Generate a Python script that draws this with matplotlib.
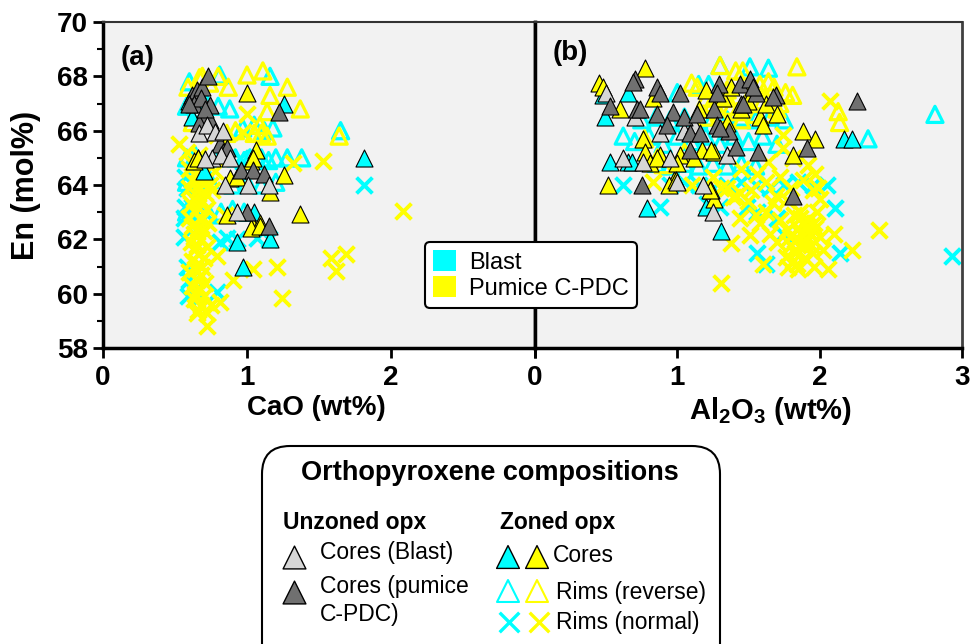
import matplotlib.pyplot as plt
from matplotlib.patches import Patch, FancyBboxPatch

plt.rcParams['font.family'] = ['Liberation Sans', 'DejaVu Sans']
plt.rcParams['mathtext.fontset'] = 'custom'
plt.rcParams['mathtext.rm'] = 'Liberation Sans'
plt.rcParams['mathtext.bf'] = 'Liberation Sans:bold'

CYAN = '#00ffff'
YELLOW = '#ffff00'
LIGHT = '#d6d6d6'
DARK = '#707070'

# ---- panel (a): CaO (wt%) vs En (mol%) ----
# unzoned cores, Blast
ub_cao = [0.67, 0.72, 0.78, 0.83, 0.76, 0.82, 0.88, 0.85, 1.01, 1.15, 0.93, 0.71]
ub_en_a = [65.9, 66.2, 65.95, 66.0, 65.0, 65.1, 65.0, 64.0, 64.0, 64.0, 63.0, 64.95]
# unzoned cores, pumice C-PDC
up_cao = [0.62, 0.65, 0.69, 0.73, 0.63, 0.68, 0.74, 0.69, 0.74, 0.67, 0.81, 0.83,
          0.86, 0.96, 1.04, 1.12, 1.00, 1.15, 1.22, 0.71, 0.60]
up_en_a = [67.3, 67.5, 67.6, 68.0, 67.0, 67.2, 66.95, 66.45, 66.4, 66.3, 65.5, 65.2,
           65.35, 64.55, 64.55, 64.4, 63.0, 62.5, 66.7, 66.8, 67.0]
# zoned cores, Blast
zcb_cao = [1.81, 1.26, 1.16, 0.97, 0.93, 0.62, 0.66, 0.70, 1.05, 0.60]
zcb_en_a = [65.0, 67.0, 62.0, 61.0, 61.9, 66.5, 65.0, 64.5, 63.0, 67.1]
# zoned cores, pumice C-PDC
zcp_cao = [1.00, 1.37, 1.26, 0.63, 1.06, 1.03, 1.16, 1.04, 1.09, 0.86, 0.88, 0.93,
           1.03, 1.09, 0.66, 1.04]
zcp_en_a = [67.4, 62.95, 64.35, 64.9, 65.3, 64.9, 63.75, 62.5, 62.6, 62.9, 64.25, 64.3,
            62.4, 62.5, 65.0, 65.0]
# reverse-zoned rims, Blast
rrb_cao = [0.58, 0.65, 0.72, 0.80, 0.88,
           0.97, 1.05, 1.12, 1.18,
           0.58, 0.64, 0.70, 0.78, 0.85, 0.92, 0.98, 1.02, 1.06, 1.10, 1.15, 1.20, 1.28, 1.38,
           0.58, 0.66, 0.74, 0.90, 1.00, 1.10, 1.20,
           0.58, 0.66, 0.74, 0.82, 0.90, 0.98,
           0.81, 1.16, 1.65, 0.60]
rrb_en_a = [66.9, 66.8, 67.0, 66.9, 66.8,
            66.1, 66.2, 66.0, 66.1,
            65.0, 65.1, 64.9, 65.0, 65.1, 65.0, 64.9, 65.0, 65.1, 65.0, 64.9, 65.0, 65.0, 65.0,
            64.1, 64.0, 64.2, 64.0, 64.1, 64.0, 64.1,
            63.0, 63.1, 62.9, 63.0, 63.1, 63.0,
            68.05, 68.0, 66.0, 67.8]
# reverse-zoned rims, pumice C-PDC
rrp_cao = [1.00, 1.11, 1.28, 1.37, 1.16, 1.14, 1.09, 1.10, 1.14, 0.67, 0.74, 0.59,
           0.62, 0.92, 0.86, 1.05, 0.69, 0.80, 0.87, 1.64]
rrp_en_a = [68.05, 68.2, 67.6, 66.8, 67.3, 66.7, 66.2, 65.9, 65.8, 67.95, 67.75, 67.6,
            66.3, 66.0, 65.9, 65.9, 68.0, 68.0, 67.6, 65.8]
# normal-zoned rims, Blast
rnb_cao = [1.81, 0.86, 0.93, 0.56, 1.07, 0.79, 0.57, 0.81, 0.57, 0.62, 0.58, 0.60,
           0.56, 0.59, 0.63, 0.58, 0.61, 0.70, 0.95, 1.15]
rnb_en_a = [64.0, 62.05, 62.0, 62.1, 62.05, 60.05, 63.2, 61.9, 64.3, 63.2, 61.0, 60.5,
            62.8, 59.9, 60.1, 63.9, 64.5, 63.0, 65.0, 62.0]
# normal-zoned rims, pumice C-PDC
rnp_cao = [0.60, 0.65, 0.70, 0.62, 0.68, 0.74, 0.60, 0.66, 0.71, 0.63, 0.69, 0.61,
           0.66, 0.72, 0.64, 0.60, 0.68, 0.73, 0.62, 0.66, 0.70, 0.63, 0.68, 0.61,
           0.65, 0.72, 0.63, 0.67, 0.70, 0.62, 0.66, 0.69, 0.64, 0.60, 0.68, 0.65,
           0.71, 0.62, 0.67, 0.64, 0.70, 0.63, 0.68, 0.66, 0.72, 0.75, 0.62, 0.58,
           0.67,
           0.79, 0.90, 1.04, 1.21, 1.24, 0.81, 0.72, 1.53, 1.32, 2.08, 1.58, 1.69,
           1.62, 0.53, 0.79, 0.97, 1.00, 0.76, 0.85, 0.78, 0.65]
rnp_en_a = [64.6, 64.5, 64.4, 64.2, 64.1, 64.0, 63.9, 63.8, 63.7, 63.5, 63.4, 63.3,
            63.2, 63.1, 63.0, 62.8, 62.7, 62.6, 62.5, 62.4, 62.3, 62.2, 62.0, 61.9,
            61.8, 61.7, 61.6, 61.5, 61.3, 61.2, 61.1, 61.0, 60.9, 60.8, 60.7, 60.5,
            60.4, 60.3, 60.2, 60.0, 59.9, 59.8, 59.6, 59.4, 59.3, 59.6, 64.8, 65.2,
            65.1,
            61.4, 60.5, 60.9, 61.0, 59.85, 59.7, 58.8, 64.9, 64.8, 63.05, 61.3, 61.45,
            60.85, 65.5, 65.85, 65.95, 66.6, 63.8, 62.9, 64.5, 59.3]

# ---- panel (b): Al2O3 (wt%) vs En (mol%) ----
ub_al = [0.70, 0.76, 0.50, 0.95, 1.05, 1.18, 0.88, 1.25, 0.62, 1.00, 1.12, 1.35]
ub_en_b = [66.5, 64.85, 67.4, 65.0, 66.0, 64.0, 65.9, 63.0, 65.0, 64.1, 66.2, 65.1]
up_al = [0.70, 0.53, 0.72, 0.86, 0.88, 1.02, 0.86, 0.97, 1.05, 1.14, 0.93, 1.09,
         1.16, 1.09, 1.26, 1.28, 1.29, 1.28, 1.36, 1.41, 1.44, 1.45, 1.51, 1.55,
         1.69, 1.57, 1.91, 1.81, 0.75, 2.26, 0.69, 0.74, 1.30, 1.53, 1.67, 1.46]
up_en_b = [67.9, 66.9, 66.8, 67.6, 67.4, 67.4, 66.6, 66.7, 66.5, 66.6, 66.2, 65.9,
           65.9, 65.3, 66.8, 66.2, 67.7, 67.4, 66.0, 65.4, 67.7, 67.0, 67.9, 67.4,
           67.3, 65.2, 65.35, 63.6, 64.0, 67.1, 67.8, 66.8, 66.1, 67.6, 67.25, 67.0]
zcb_al = [0.49, 0.65, 0.53, 0.65, 0.68, 0.79, 1.20, 1.31, 2.17, 2.23, 0.48]
zcb_en_b = [66.5, 67.4, 64.85, 64.85, 64.85, 63.15, 63.2, 62.3, 65.7, 65.7, 67.3]
zcp_al = [0.45, 0.48, 0.77, 0.60, 0.76, 0.77, 0.81, 0.88, 0.51, 0.98, 0.94, 1.02,
          1.00, 1.17, 1.26, 1.24, 1.26, 1.88, 1.97, 1.81, 0.86, 0.99, 1.23, 1.24,
          1.12, 1.20, 1.32, 1.38, 1.45, 1.50, 1.58, 1.62, 1.35, 1.60, 1.70, 1.15, 0.83]
zcp_en_b = [67.75, 67.6, 68.3, 66.8, 65.7, 65.2, 64.8, 65.1, 64.0, 64.2, 64.0, 65.1,
            64.8, 65.3, 65.2, 63.8, 63.5, 66.0, 65.7, 65.1, 65.0, 64.2, 63.8, 65.3,
            65.0, 67.5, 67.2, 67.6, 66.8, 67.1, 66.5, 67.0, 66.3, 66.2, 66.6, 66.8, 67.2]
rrb_al = [0.75, 0.85, 0.95, 1.05, 1.15, 1.25, 1.35, 1.45, 1.55, 1.65, 1.75,
          0.62, 0.70, 0.80, 0.90, 1.00, 1.10, 1.20, 1.30, 1.40, 1.50, 1.60, 1.70,
          0.85, 0.95, 1.05, 1.15, 1.25, 1.35, 1.45, 1.55,
          2.81, 2.34, 1.30, 1.51, 1.64, 1.00, 1.15, 1.22]
rrb_en_b = [66.4, 66.5, 66.4, 66.5, 66.4, 66.5, 66.4, 66.5, 66.4, 66.5, 66.4,
            65.8, 65.6, 65.8, 65.5, 65.8, 65.6, 65.8, 65.5, 65.8, 65.6, 65.8, 65.5,
            64.8, 64.7, 64.8, 64.7, 64.8, 64.7, 64.8, 64.7,
            66.6, 65.7, 68.4, 68.35, 68.3, 67.4, 67.7, 67.7]
rrp_al = [1.30, 1.84, 1.10, 1.14, 2.13, 2.14, 1.41, 1.46, 1.64, 1.81, 1.76, 1.20,
          1.25, 1.35, 1.50, 1.55, 1.60, 1.70, 1.30, 1.45, 1.20, 0.77, 0.86, 0.90,
          1.05, 1.58, 1.68, 1.38, 1.22, 1.33, 1.42, 1.52, 1.62, 1.72]
rrp_en_b = [68.4, 68.35, 67.75, 67.6, 66.7, 66.3, 68.2, 68.2, 67.8, 67.3, 67.4, 67.2,
            67.0, 67.5, 67.0, 66.6, 67.1, 66.8, 66.6, 66.4, 66.5, 65.7, 65.0, 64.75,
            65.2, 67.7, 67.6, 66.9, 66.8, 67.2, 66.7, 67.4, 66.6, 67.0]
rnb_al = [0.62, 0.88, 1.21, 1.56, 1.62, 2.05, 2.11, 2.14, 2.93, 1.74, 1.56, 1.49,
          0.95, 1.05, 1.15, 1.25, 1.35, 1.45, 1.55, 1.65, 1.75, 1.85, 1.95, 1.30, 1.70]
rnb_en_b = [64.0, 63.2, 63.3, 61.5, 61.1, 64.0, 63.15, 61.5, 61.4, 62.2, 63.0, 63.2,
            64.0, 64.1, 64.0, 63.9, 64.0, 64.1, 64.0, 63.9, 64.0, 64.1, 64.0, 63.2, 62.8]
rnp_al = [1.31, 1.41, 1.45, 1.56, 1.64, 1.74, 1.81, 1.92, 1.97, 1.99, 1.69, 1.10,
          0.83, 1.74, 2.07,
          1.31, 1.38, 1.44, 1.51, 1.60, 1.58, 1.67, 1.77, 1.76, 1.84, 1.88, 1.95,
          2.00, 2.06, 2.10, 2.23, 2.42, 1.91, 1.98, 1.86, 1.77, 1.44, 1.35, 1.39,
          1.95, 1.88,
          1.80, 1.85, 1.90, 1.93, 1.82, 1.70, 1.72, 1.65, 1.62, 1.78, 1.85, 1.96,
          2.02, 1.88, 1.50, 1.55, 1.80, 1.72, 2.00, 1.96, 1.83, 1.25, 1.62, 1.52,
          1.84, 1.87, 1.91, 1.94, 1.79, 1.83, 1.89, 1.92, 1.86, 1.81, 1.90, 1.97]
rnp_en_b = [63.9, 63.6, 64.6, 64.4, 64.85, 65.35, 65.0, 64.75, 64.4, 63.9, 63.6, 64.0,
            64.1, 65.85, 67.1,
            60.4, 61.85, 62.8, 62.15, 61.1, 62.6, 63.35, 62.35, 61.35, 61.1, 61.85, 61.5,
            62.1, 60.9, 62.2, 61.6, 62.35, 62.7, 63.0, 63.0, 63.45, 63.7, 63.9, 63.55,
            63.8, 64.2,
            61.8, 62.4, 61.3, 62.2, 62.9, 61.9, 62.7, 62.2, 63.0, 61.0, 60.9, 61.0,
            61.6, 62.6, 63.4, 62.9, 63.9, 64.3, 63.5, 62.6, 61.6, 64.3, 64.1, 63.8,
            62.0, 62.2, 62.5, 61.8, 62.1, 61.5, 61.7, 62.3, 62.8, 61.2, 61.9, 62.4]

# marker styles for each group, in drawing order
open_c = dict(marker='^', s=135, facecolors='none', edgecolors=CYAN, linewidths=2.3)
open_y = dict(marker='^', s=135, facecolors='none', edgecolors=YELLOW, linewidths=2.3)
cross_c = dict(marker='x', s=130, color=CYAN, linewidths=2.8)
cross_y = dict(marker='x', s=130, color=YELLOW, linewidths=2.8)
core_c = dict(marker='^', s=150, facecolors=CYAN, edgecolors='black', linewidths=0.8)
core_y = dict(marker='^', s=150, facecolors=YELLOW, edgecolors='black', linewidths=0.8)
core_l = dict(marker='^', s=150, facecolors=LIGHT, edgecolors='black', linewidths=0.8)
core_d = dict(marker='^', s=150, facecolors=DARK, edgecolors='black', linewidths=0.8)

W, H = 979.0, 644.0
fig = plt.figure(figsize=(9.79, 6.44), dpi=100)
ax_a = fig.add_axes([103 / W, 1 - 348 / H, 432 / W, 326 / H])
ax_b = fig.add_axes([535 / W, 1 - 348 / H, 427 / W, 326 / H])

panels = [
    (ax_a, [(rrb_cao, rrb_en_a, open_c), (rnb_cao, rnb_en_a, cross_c),
            (rrp_cao, rrp_en_a, open_y), (rnp_cao, rnp_en_a, cross_y),
            (zcb_cao, zcb_en_a, core_c), (zcp_cao, zcp_en_a, core_y),
            (up_cao, up_en_a, core_d), (ub_cao, ub_en_a, core_l)]),
    (ax_b, [(rrb_al, rrb_en_b, open_c), (rnb_al, rnb_en_b, cross_c),
            (rrp_al, rrp_en_b, open_y), (rnp_al, rnp_en_b, cross_y),
            (zcb_al, zcb_en_b, core_c), (zcp_al, zcp_en_b, core_y),
            (ub_al, ub_en_b, core_l), (up_al, up_en_b, core_d)]),
]

for ax, groups in panels:
    ax.set_facecolor('#f2f2f2')
    for x, y, style in groups:
        ax.scatter(x, y, clip_on=False, **style)
    ax.set_xlim(0, 3)
    ax.set_ylim(58, 70)
    for side in ['left', 'bottom']:
        ax.spines[side].set_linewidth(2.5)
        ax.spines[side].set_color('black')
    ax.spines['top'].set_linewidth(1.5)
    ax.spines['top'].set_color('#333333')
    ax.tick_params(axis='both', direction='out', length=7, width=2, labelsize=20, pad=4)
    ax.tick_params(axis='x', pad=5)
    ax.tick_params(axis='y', which='minor', direction='out', length=4, width=1.5)

ax_a.spines['right'].set_linewidth(2.5)
ax_a.spines['right'].set_color('black')
ax_b.spines['right'].set_linewidth(2)
ax_b.spines['right'].set_color('#404040')

ax_a.set_xticks([0, 1, 2, 3], ['0', '1', '2', ''], fontweight='bold')
ax_a.set_yticks(range(58, 71, 2), [str(v) for v in range(58, 71, 2)], fontweight='bold')
ax_a.set_yticks(range(59, 70, 2), minor=True)
ax_b.set_xticks([0, 1, 2, 3], ['0', '1', '2', '3'], fontweight='bold')
ax_b.set_yticks([])

ax_a.set_ylabel('En (mol%)', fontsize=22, fontweight='bold')
ax_a.yaxis.set_label_coords((41 - 103) / 432, 0.5)
ax_a.set_xlabel('CaO (wt%)', fontsize=20, fontweight='bold')
ax_a.xaxis.set_label_coords(0.493, -47 / 326)
ax_b.set_xlabel(r'Al$_\mathbf{2}$O$_\mathbf{3}$ (wt%)', fontsize=21, fontweight='bold')
ax_b.xaxis.set_label_coords((770 - 535) / 427, -47 / 326)

ax_a.text(0.081, 0.89, '(a)', transform=ax_a.transAxes, fontsize=20,
          fontweight='bold', ha='center', va='center')
ax_b.text(0.082, 0.905, '(b)', transform=ax_b.transAxes, fontsize=20,
          fontweight='bold', ha='center', va='center')

# eruption unit colour key
fig.legend(handles=[Patch(facecolor=CYAN, edgecolor='none'),
                    Patch(facecolor=YELLOW, edgecolor='none')],
           labels=['Blast', 'Pumice C-PDC'], loc='center',
           bbox_to_anchor=(531 / W, 1 - 275 / H), fontsize=17,
           handlelength=0.95, handleheight=0.95, handletextpad=0.55,
           labelspacing=0.12, borderpad=0.35, fancybox=True, framealpha=1,
           edgecolor='black').get_frame().set_linewidth(1.5)

# symbol key drawn in pixel space
key = fig.add_axes([0, 0, 1, 1])
key.set_xlim(0, W)
key.set_ylim(H, 0)
key.axis('off')
key.add_patch(FancyBboxPatch((262, 446), 458, 260,
                             boxstyle='round,pad=0,rounding_size=28',
                             facecolor='white', edgecolor='black', linewidth=1.5))
key.text(490, 473, 'Orthopyroxene compositions', fontsize=19.5, fontweight='bold',
         ha='center', va='center')
key.text(283, 522, 'Unzoned opx', fontsize=16.5, fontweight='bold', va='center')
key.text(500, 522, 'Zoned opx', fontsize=16.5, fontweight='bold', va='center')

big_tri = dict(marker='^', s=270, edgecolors='black', linewidths=1.0)
key.scatter([294], [557], facecolors=LIGHT, **big_tri)
key.scatter([294], [592], facecolors=DARK, **big_tri)
key.scatter([508, 537], [557, 557], facecolors=[CYAN, YELLOW], **big_tri)
key.scatter([508], [591], marker='^', s=250, facecolors='none', edgecolors=CYAN, linewidths=1.5)
key.scatter([537], [591], marker='^', s=250, facecolors='none', edgecolors=YELLOW, linewidths=1.5)
key.scatter([509], [622], marker='x', s=200, color=CYAN, linewidths=2.4)
key.scatter([539], [622], marker='x', s=200, color=YELLOW, linewidths=2.4)

key.text(320, 552, 'Cores (Blast)', fontsize=16.5, va='center')
key.text(320, 587, 'Cores (pumice', fontsize=16.5, va='center')
key.text(320, 615, 'C-PDC)', fontsize=16.5, va='center')
key.text(553, 556, 'Cores', fontsize=16.5, va='center')
key.text(556, 592, 'Rims (reverse)', fontsize=16.5, va='center')
key.text(556, 622, 'Rims (normal)', fontsize=16.5, va='center')

fig.savefig('out.png', dpi=100)
